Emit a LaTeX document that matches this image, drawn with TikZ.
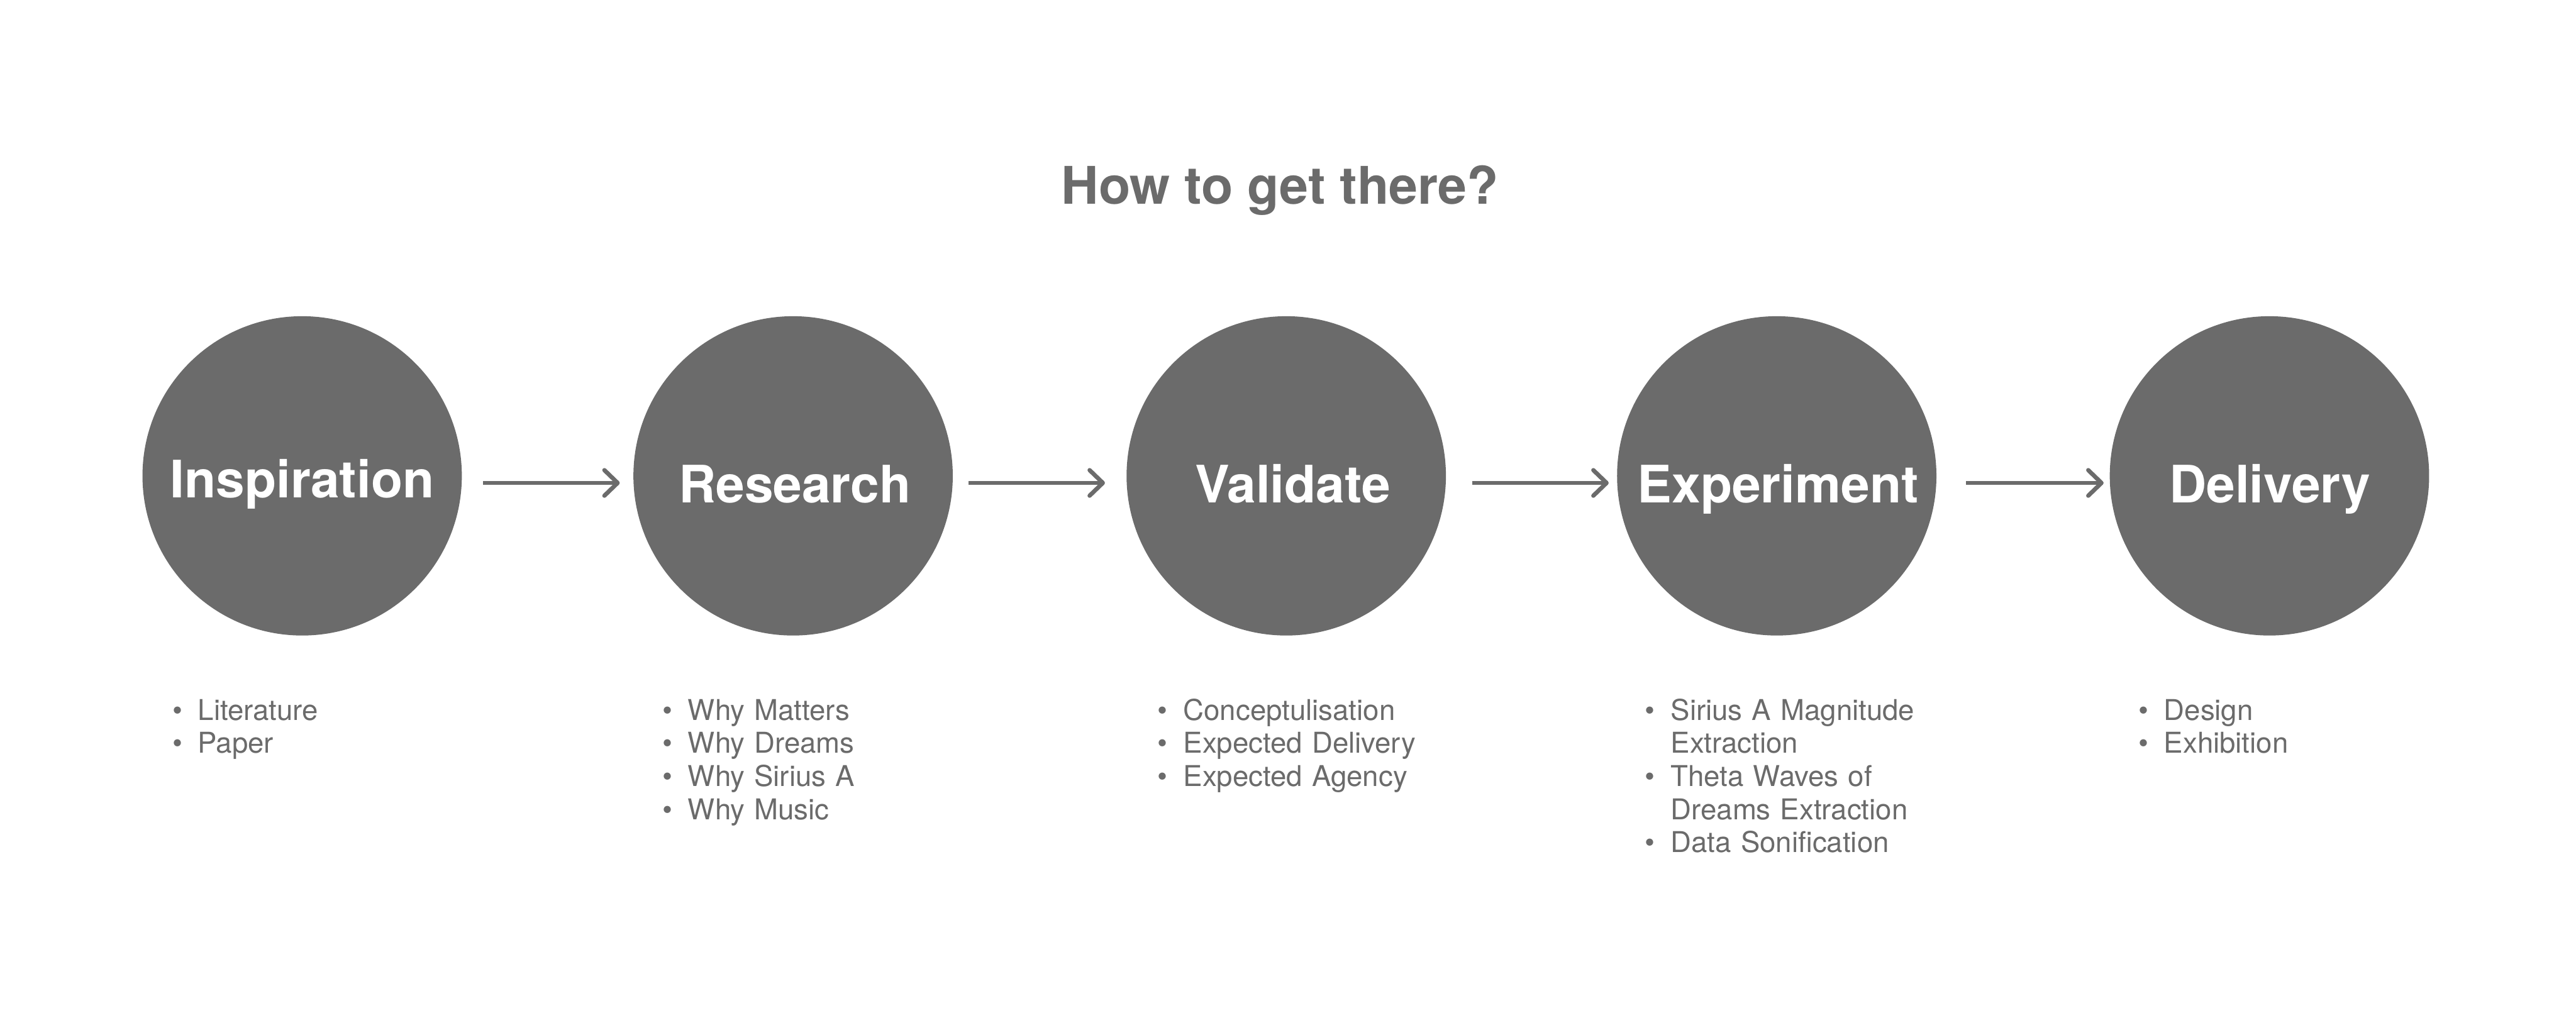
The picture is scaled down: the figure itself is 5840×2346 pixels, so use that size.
\documentclass[tikz,border=0pt]{standalone}
\usepackage{fontspec}
\setmainfont{TeX Gyre Heros}
\usetikzlibrary{arrows.meta}
\definecolor{stepgrey}{RGB}{107,107,107}
\newcommand\bitem[1]{\makebox[14.5pt][l]{\textbullet}#1}
\newcommand\bcont{\hspace*{14.5pt}}
\tikzset{
  stage/.style={circle, fill=stepgrey, draw=none, inner sep=0pt, outer sep=0pt, minimum size=181pt},
  stagelabel/.style={anchor=base, text=white, inner sep=0pt, font=\fontsize{29.25pt}{34pt}\selectfont\bfseries},
  titletext/.style={anchor=base, text=stepgrey, inner sep=0pt, font=\fontsize{29.4pt}{34pt}\selectfont\bfseries},
  bullets/.style={anchor=base west, text=stepgrey, inner sep=0pt, text width=200pt, align=left, font=\fontsize{16.25pt}{18.75pt}\selectfont},
  flow/.style={draw=stepgrey, line width=2.4pt, -{Straight Barb[length=7.5pt, width=14.5pt, round]}}
}
\begin{document}
\begin{tikzpicture}[x=0.25pt, y=-0.25pt]
\useasboundingbox (0,0) rectangle (5840,2346);
\fill[white] (0,0) rectangle (5840,2346);

\node[titletext] (title) at (2902,463) {How to get there?};

\node[stage] (c1) at (685,1079) {};
\node[stage] (c2) at (1798,1079) {};
\node[stage] (c3) at (2916,1079) {};
\node[stage] (c4) at (4028,1079) {};
\node[stage] (c5) at (5145,1079) {};

\node[stagelabel] (l1) at (685,1129) {Inspiration};
\node[stagelabel] (l2) at (1802,1140) {Research};
\node[stagelabel] (l3) at (2931,1140) {Validate};
\node[stagelabel] (l4) at (4031,1140) {Experiment};
\node[stagelabel] (l5) at (5146,1140) {Delivery};

\coordinate (a1s) at (1095,1095); \coordinate (a1e) at (1405,1095);
\coordinate (a2s) at (2196,1095); \coordinate (a2e) at (2505,1095);
\coordinate (a3s) at (3338,1095); \coordinate (a3e) at (3647,1095);
\coordinate (a4s) at (4457,1095); \coordinate (a4e) at (4769,1095);
\draw[flow] (a1s) -- (a1e);
\draw[flow] (a2s) -- (a2e);
\draw[flow] (a3s) -- (a3e);
\draw[flow] (a4s) -- (a4e);

\node[bullets] (b1) at (390,1633) {\bitem{Literature}\\\bitem{Paper}};
\node[bullets] (b2) at (1501,1633) {\bitem{Why Matters}\\\bitem{Why Dreams}\\\bitem{Why Sirius A}\\\bitem{Why Music}};
\node[bullets] (b3) at (2624,1633) {\bitem{Conceptulisation}\\\bitem{Expected Delivery}\\\bitem{Expected Agency}};
\node[bullets] (b4) at (3729,1633) {\bitem{Sirius A Magnitude}\\\bcont Extraction\\\bitem{Theta Waves of}\\\bcont Dreams Extraction\\\bitem{Data Sonification}};
\node[bullets] (b5) at (4847,1633) {\bitem{Design}\\\bitem{Exhibition}};
\end{tikzpicture}
\end{document}
